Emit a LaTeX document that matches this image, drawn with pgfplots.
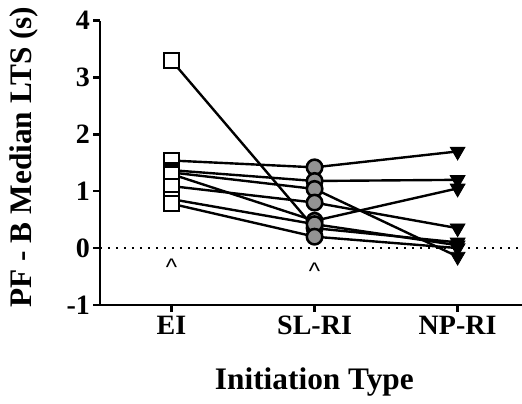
\documentclass[border=0pt]{standalone}
\usepackage{fontspec}
\setmainfont{Liberation Serif}
\newfontfamily\caretfont{Liberation Sans}
\usepackage{pgfplots}
\usepackage{pgfplotstable}
\pgfplotsset{compat=1.18}

% One column per participant; rows are the initiation types EI (0), SL-RI (1), NP-RI (2)
\pgfplotstableread{
x s1 s2 s3 s4 s5 s6 s7 s8
0 1.54 1.37 1.33 1.30 1.09 3.30 0.86 0.78
1 1.42 1.18 1.04 0.48 0.80 0.35 0.42 0.20
2 1.70 1.20 -0.15 1.05 0.35 0.10 0.05 0.00
}\ltsdata

\begin{document}
\begin{tikzpicture}
\begin{axis}[
  name=ax,
  scale only axis, width=316.5pt, height=213.2pt,
  xmin=-0.5, xmax=2.45, ymin=-1, ymax=4,
  axis lines=left,
  axis line style={-, line width=1.8pt},
  xtick={0,1,2}, xticklabels={EI,SL-RI,NP-RI},
  ytick={-1,0,1,2,3,4},
  tick align=outside,
  major tick length=5pt,
  tick style={line width=1.8pt, black},
  /pgf/number format/assume math mode=true,
  ticklabel style={font=\fontsize{21}{21}\selectfont\bfseries},
  yticklabel style={xshift=1pt},
  every axis x label/.style={at={(axis description cs:0.508,-0.272)}, anchor=center},
  every axis y label/.style={at={(axis description cs:-0.18,0.52)}, rotate=90, anchor=center},
  label style={font=\fontsize{23.5}{23.5}\selectfont\bfseries},
  xlabel={Initiation Type},
  ylabel={PF - B Median LTS (s)},
]
% zero reference line
\addplot[black, line width=1.5pt, dash pattern=on 1.5pt off 4.5pt] coordinates {(-0.5,0) (2.45,0)};

% connecting lines for every participant
\pgfplotsinvokeforeach{s1,s2,s3,s4,s5,s6,s7,s8}{
  \addplot[black, line width=1.8pt, mark=none] table[x=x, y=#1] {\ltsdata};
}

% EI: open squares
\pgfplotsinvokeforeach{s1,s2,s3,s4,s5,s6,s7,s8}{
  \addplot[only marks, mark=square*, mark size=5.6pt,
    mark options={draw=black, fill=white, line width=1.6pt},
    skip coords between index={1}{3}] table[x=x, y=#1] {\ltsdata};
}
% SL-RI: grey circles
\pgfplotsinvokeforeach{s1,s2,s3,s4,s5,s6,s7,s8}{
  \addplot[only marks, mark=*, mark size=5.8pt,
    mark options={draw=black, fill=gray!85, line width=1.9pt},
    skip coords between index={0}{1}, skip coords between index={2}{3}] table[x=x, y=#1] {\ltsdata};
}
% NP-RI: filled downward triangles
\pgfplotsinvokeforeach{s1,s2,s3,s4,s5,s6,s7,s8}{
  \addplot[only marks, mark=triangle*, mark size=6.4pt,
    mark options={rotate=180, draw=black, fill=black, line width=0.6pt},
    skip coords between index={0}{2}] table[x=x, y=#1] {\ltsdata};
}

% significance markers
\node[font=\caretfont\fontsize{18}{18}\selectfont] at (axis cs:0,-0.33) {\textasciicircum};
\node[font=\caretfont\fontsize{18}{18}\selectfont] at (axis cs:1,-0.40) {\textasciicircum};
\end{axis}
\pgfresetboundingbox
\useasboundingbox ([xshift=-75pt, yshift=-74.25pt]ax.south west) rectangle ([yshift=15.5pt]ax.north east);
\end{tikzpicture}
\end{document}
